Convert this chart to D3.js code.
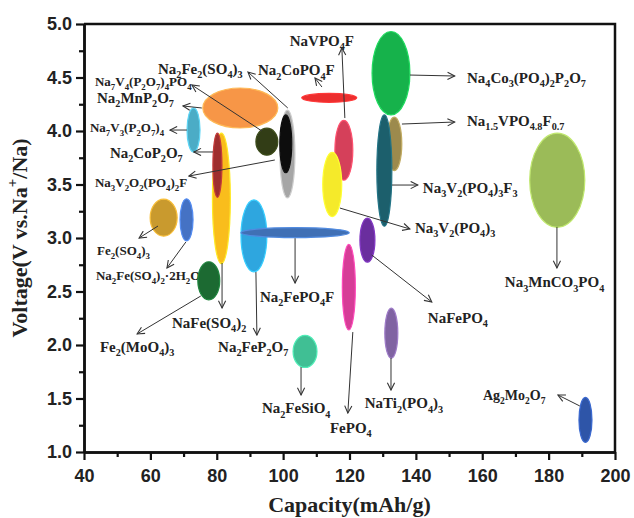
<!DOCTYPE html>
<html>
<head>
<meta charset="utf-8">
<script src="https://cdn.jsdelivr.net/npm/d3@7"></script>
<style>
body { margin:0; background:#fff; }
</style>
</head>
<body>
<div id="chart"></div>
<script>
// cathode materials, drawing order back to front
var materials = ["Na7V3 orange","Na7V3(P2O7)4","NaFe(SO4)2","Na2CoP2O7","Na7V4(P2O7)4PO4","Na2Fe2(SO4)3 grey",
	"Na2Fe2(SO4)3","Na2CoPO4F","NaVPO4F","Na3V2(PO4)3","Na4Co3(PO4)2P2O7","Na1.5VPO4.8F0.7","Na3V2(PO4)3F3",
	"Na3MnCO3PO4","NaFePO4","FePO4","NaTi2(PO4)3","Ag2Mo2O7","Na2FeSiO4","Na2FeP2O7","Na2FePO4F",
	"Fe2(SO4)3","Na2Fe(SO4)2.2H2O","Fe2(MoO4)3"];
var capacity   = [87.1, 73.0, 81.4, 80.2, 95.1, 101.3, 100.8, 113.9, 118.3, 114.8, 132.5, 133.5, 130.5,
	182.6, 125.4, 119.8, 132.6, 191.1, 106.6, 91.2, 103.6, 64.0, 70.9, 77.6];
var voltage    = [4.215, 4.01, 3.37, 3.68, 3.90, 3.785, 3.88, 4.31, 3.82, 3.50, 4.54, 3.88, 3.63,
	3.54, 2.98, 2.54, 2.11, 1.30, 1.94, 3.02, 3.05, 3.19, 3.17, 2.60];
var capSpread  = [11.3, 1.96, 2.7, 1.36, 3.3, 2.26, 1.8, 8.3, 2.7, 2.86, 5.7, 2.26, 2.26,
	8.3, 2.26, 1.96, 1.96, 1.96, 3.6, 3.9, 16.3, 4.07, 1.96, 3.3];
var voltSpread = [0.187, 0.206, 0.61, 0.30, 0.126, 0.41, 0.27, 0.042, 0.28, 0.30, 0.39, 0.25, 0.52,
	0.44, 0.206, 0.40, 0.234, 0.21, 0.15, 0.336, 0.047, 0.173, 0.196, 0.178];
var fills = ["#F79646","#4BACC6","#F9BD1E","#9E2F2F","#313D16","#A6A6A6","#0D0D0D","#EC2D2D","#D5415A",
	"#F5EA29","#18B24C","#9C8A4E","#1D5E6C","#9BBB59","#6A2E9E","#D63C97","#8064A2","#2F55A8",
	"#40BF94","#2DA6DF","#4170B5","#C99A2E","#4472C4","#1A6B32"];

// annotations: text, label position [cap, V], arrow from -> to [cap, V]
var labelText = ["Na_{2}Fe_{2}(SO_{4})_{3}","Na_{2}CoPO_{4}F","NaVPO_{4}F","Na_{7}V_{4}(P_{2}O_{7})_{4}PO_{4}",
	"Na_{2}MnP_{2}O_{7}","Na_{7}V_{3}(P_{2}O_{7})_{4}","Na_{2}CoP_{2}O_{7}","Na_{3}V_{2}O_{2}(PO_{4})_{2}F",
	"Fe_{2}(SO_{4})_{3}","Na_{2}Fe(SO_{4})_{2}·2H_{2}O","Fe_{2}(MoO_{4})_{3}","NaFe(SO_{4})_{2}",
	"Na_{2}FeP_{2}O_{7}","Na_{2}FePO_{4}F","Na_{2}FeSiO_{4}","FePO_{4}","NaTi_{2}(PO_{4})_{3}",
	"Ag_{2}Mo_{2}O_{7}","NaFePO_{4}","Na_{3}MnCO_{3}PO_{4}","Na_{3}V_{2}(PO_{4})_{3}",
	"Na_{3}V_{2}(PO_{4})_{3}F_{3}","Na_{1.5}VPO_{4.8}F_{0.7}","Na_{4}Co_{3}(PO_{4})_{2}P_{2}O_{7}"];
var labelAt = [[62.3,4.535],[92.4,4.523],[102.0,4.795],[43.3,4.42],[43.9,4.262],[41.8,3.99],[47.8,3.748],
	[43.3,3.477],[43.9,2.841],[43.6,2.607],[44.8,1.935],[66.5,2.159],[80.4,1.935],[93.0,2.402],
	[93.6,1.364],[114.1,1.178],[124.6,1.411],[160.2,1.486],[143.6,2.206],[166.8,2.542],[139.7,3.047],
	[142.1,3.421],[155.4,4.047],[155.4,4.449]];
var labelSize = [15,15,15,13,15,13,15,13,13,13,15,15,15,15,15,15,15,14,15,15,15,15,15,15];
var arrowFrom = [[101.4,4.215],[111.7,4.411],[118.6,4.121],[93.6,4.0],[75.5,4.215],[71.0,4.009],[78.9,3.804],
	[97.5,3.729],[62.3,3.112],[70.7,2.963],[75.2,2.458],[81.6,2.766],[91.8,2.682],[103.6,2.998],
	[105.4,1.794],[121.0,2.121],[132.5,1.879],[189.4,1.430],[126.7,2.841],[182.5,3.103],[117.1,3.280],
	[132.8,3.495],[135.8,4.065],[138.2,4.523]];
var arrowTo = [[89.4,4.551],[109.6,4.495],[117.7,4.776],[72.5,4.430],[69.8,4.234],[65.9,4.009],[73.1,3.804],
	[71.6,3.579],[56.6,3.0],[65.0,2.720],[56.0,2.103],[81.6,2.346],[92.1,2.093],[103.6,2.579],
	[105.4,1.533],[119.5,1.364],[132.5,1.579],[182.8,1.533],[144.8,2.402],[182.5,2.720],[138.2,3.084],
	[140.6,3.495],[151.7,4.084],[151.7,4.514]];

var xTicks = d3.range(40, 201, 20);
var yTicks = d3.range(1, 5.01, 0.5);

var width = 634, height = 518;
var margin = {top:24, right:19, bottom:66, left:84};

var svg = d3.select("#chart").append("svg")
	.attr("width", width)
	.attr("height", height);

var x = d3.scaleLinear().domain([40,200]).range([margin.left, width - margin.right]);
var y = d3.scaleLinear().domain([1,5]).range([height - margin.bottom, margin.top]);

var defs = svg.append("defs");
defs.append("marker")
	.attr("id","head")
	.attr("viewBox","0 0 10 10")
	.attr("refX",9).attr("refY",5)
	.attr("markerWidth",9).attr("markerHeight",9)
	.attr("markerUnits","userSpaceOnUse")
	.attr("orient","auto")
	.append("path")
	.attr("d","M1,1 L9,5 L1,9")
	.attr("fill","none")
	.attr("stroke","#333")
	.attr("stroke-width",1.2);
defs.append("filter").attr("id","soft")
	.append("feGaussianBlur").attr("stdDeviation",0.6);

// text with _{sub} and ^{sup}
function rich(t, str, size)
{
	var re = /([_^])\{([^}]*)\}/g, last = 0, off = 0, m;
	function put(s, shift, fs)
	{
		if(!s) return;
		var sp = t.append("tspan").text(s).attr("font-size", fs);
		if(shift != off) { sp.attr("dy", shift - off); off = shift; }
	}
	while((m = re.exec(str)) !== null)
	{
		put(str.slice(last, m.index), 0, size);
		put(m[2], m[1] == "_" ? size*0.3 : -size*0.45, size*0.68);
		last = re.lastIndex;
	}
	put(str.slice(last), 0, size);
}

// labels under the ellipses
var labels = svg.append("g")
	.attr("font-family","'Liberation Serif','Times New Roman',serif")
	.attr("font-weight","bold")
	.attr("fill","#222");
labelText.forEach(function(s, i){
	var t = labels.append("text")
		.attr("x", x(labelAt[i][0]))
		.attr("y", y(labelAt[i][1]));
	rich(t, s, labelSize[i]);
});

// ellipses
svg.append("g").attr("filter","url(#soft)")
	.selectAll("ellipse")
	.data(materials)
	.enter().append("ellipse")
	.attr("cx", function(d,i){ return x(capacity[i]); })
	.attr("cy", function(d,i){ return y(voltage[i]); })
	.attr("rx", function(d,i){ return x(capacity[i] + capSpread[i]) - x(capacity[i]); })
	.attr("ry", function(d,i){ return y(voltage[i] - voltSpread[i]) - y(voltage[i]); })
	.attr("fill", function(d,i){ return fills[i]; })
	.attr("stroke", function(d,i){ return d3.color(fills[i]).brighter(0.6); })
	.attr("stroke-width", 1.2);

// arrows
svg.append("g").selectAll("line")
	.data(arrowFrom)
	.enter().append("line")
	.attr("x1", function(d){ return x(d[0]); })
	.attr("y1", function(d){ return y(d[1]); })
	.attr("x2", function(d,i){ return x(arrowTo[i][0]); })
	.attr("y2", function(d,i){ return y(arrowTo[i][1]); })
	.attr("stroke","#333")
	.attr("stroke-width",1)
	.attr("marker-end","url(#head)");

// axes
var xAxis = svg.append("g")
	.attr("transform","translate(0," + (height - margin.bottom) + ")")
	.call(d3.axisBottom(x).tickValues(xTicks).tickSize(8).tickPadding(9).tickSizeOuter(0));
svg.append("g")
	.attr("transform","translate(0," + (height - margin.bottom) + ")")
	.call(d3.axisBottom(x).tickValues(d3.range(50,200,20)).tickSize(5).tickFormat("").tickSizeOuter(0));
var yAxis = svg.append("g")
	.attr("transform","translate(" + margin.left + ",0)")
	.call(d3.axisLeft(y).tickValues(yTicks).tickSize(8).tickPadding(4).tickFormat(d3.format(".1f")).tickSizeOuter(0));
svg.append("g")
	.attr("transform","translate(" + margin.left + ",0)")
	.call(d3.axisLeft(y).tickValues(d3.range(1.25,5,0.5)).tickSize(5).tickFormat("").tickSizeOuter(0));

svg.selectAll(".domain").attr("stroke","#111").attr("stroke-width",2.5);
svg.selectAll(".tick line").attr("stroke","#111").attr("stroke-width",2.2);
svg.selectAll(".tick text")
	.attr("font-family","'Liberation Sans',Arial,sans-serif")
	.attr("font-weight","bold")
	.attr("font-size",18)
	.attr("fill","#222");

// top and right of the frame
svg.append("path")
	.attr("d","M" + margin.left + "," + margin.top + "H" + (width - margin.right) + "V" + (height - margin.bottom))
	.attr("fill","none")
	.attr("stroke","#111")
	.attr("stroke-width",2.5);

// axis titles
var xt = svg.append("text")
	.attr("x", (margin.left + width - margin.right)/2)
	.attr("y", 512)
	.attr("text-anchor","middle")
	.attr("font-family","'Liberation Serif','Times New Roman',serif")
	.attr("font-weight","bold")
	.attr("fill","#222");
rich(xt, "Capacity(mAh/g)", 22);

var yt = svg.append("text")
	.attr("transform","translate(27," + ((margin.top + height - margin.bottom)/2) + ") rotate(-90)")
	.attr("text-anchor","middle")
	.attr("font-family","'Liberation Serif','Times New Roman',serif")
	.attr("font-weight","bold")
	.attr("fill","#222");
rich(yt, "Voltage(V vs.Na^{+}/Na)", 22);
</script>
</body>
</html>
